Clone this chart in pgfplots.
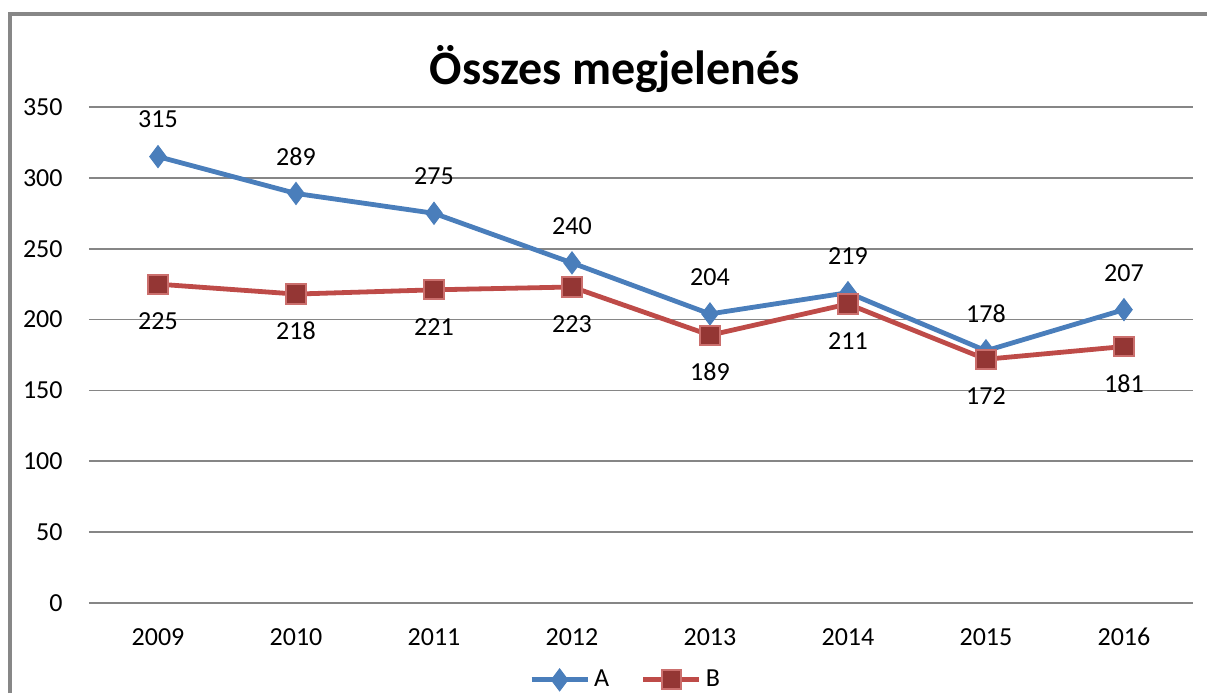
\documentclass[border=0pt]{standalone}
\usepackage{pgfplots}
\pgfplotsset{compat=1.18}
\usetikzlibrary{calc}
\usepackage{fontspec}
\setmainfont{Carlito}

\definecolor{serA}{HTML}{4A7EBB}
\definecolor{serB}{HTML}{BE4B48}
\definecolor{fillB}{HTML}{943634}
\definecolor{gridc}{HTML}{868686}
\definecolor{framec}{HTML}{878787}

\begin{document}
\begin{tikzpicture}[x=0.5pt,y=0.5pt]
% page = 1207 x 693 px, 1px = 0.5pt
\begin{axis}[
    name=ax, at={(0,0)}, anchor=south west,
    width=552pt, height=248pt, scale only axis,
    xmin=-0.5, xmax=7.5, ymin=0, ymax=350,
    xtick={0,...,7},
    xticklabels={2009,2010,2011,2012,2013,2014,2015,2016},
    ytick={0,50,...,350},
    axis line style={draw=none},
    major tick length=0pt,
    ymajorgrids,
    grid style={gridc, line width=0.8pt},
    /pgf/number format/assume math mode=true,
    tick label style={font=\fontsize{13}{15}\selectfont},
    yticklabel style={anchor=east, inner sep=0pt, xshift=-13pt},
    xticklabel style={anchor=center, inner sep=0pt, yshift=-17pt},
    clip=false,
    legend columns=2,
    legend style={draw=none, fill=none, at={(0.487,-0.155)}, anchor=center,
        font=\fontsize{13}{15}\selectfont,
        /tikz/every even column/.append style={column sep=14pt}},
    legend image code/.code={
        \draw[mark repeat=2, mark phase=2] plot coordinates {(0pt,0pt) (14pt,0pt) (28pt,0pt)};},
]
\addplot[serA, line width=2.4pt, mark=diamond*, mark size=5.5pt,
    mark options={fill=serA, draw=serA, line width=0.5pt},
    nodes near coords,
    every node near coord/.append style={black, anchor=center, yshift=18.5pt,
        font=\fontsize{13}{15}\selectfont}]
coordinates {(0,315) (1,289) (2,275) (3,240) (4,204) (5,219) (6,178) (7,207)};
\addlegendentry{A}
\addplot[serB, line width=2.4pt, mark=square*, mark size=4.8pt,
    mark options={fill=fillB, draw=serB!80!white, line width=1pt},
    nodes near coords,
    every node near coord/.append style={black, anchor=center, yshift=-18.5pt,
        font=\fontsize{13}{15}\selectfont}]
coordinates {(0,225) (1,218) (2,221) (3,223) (4,189) (5,211) (6,172) (7,181)};
\addlegendentry{B}
\end{axis}
\pgfresetboundingbox
\coordinate (O) at ($(ax.south west)+(-89,-90)$);
\path[use as bounding box] (O) rectangle ++(1207,693);
\begin{scope}[shift={(O)}]
\draw[framec, line width=1.6pt] (10,0) -- (10,679) -- (1207,679);
\node[font=\bfseries\fontsize{24}{28}\selectfont] at (615,624) {Összes megjelenés};
\end{scope}
\end{tikzpicture}
\end{document}
